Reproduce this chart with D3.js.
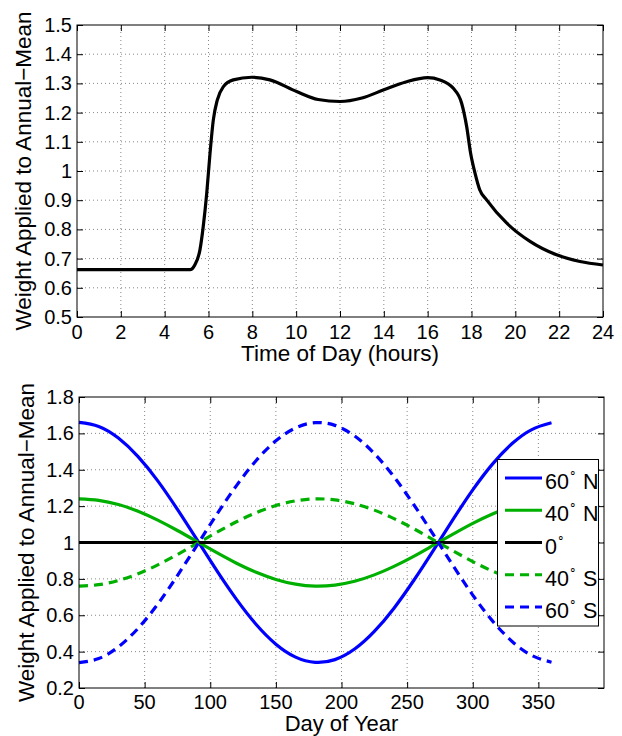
<!DOCTYPE html>
<html>
<head>
<meta charset="utf-8">
<script src="https://cdnjs.cloudflare.com/ajax/libs/d3/7.8.5/d3.min.js"></script>
<style>
  body { margin: 0; background: #fff; }
  svg { display: block; font-family: "Liberation Sans", Arial, sans-serif; }
  .grid line { stroke: #888; stroke-width: 1; stroke-dasharray: 1,3; }
</style>
</head>
<body>
<div id="chart"></div>
<script>
// top panel: diurnal weighting
const hours = [0, 2, 4, 5.16, 5.38, 5.61, 5.76, 5.92, 6.07, 6.22, 6.40, 6.68, 7.13, 7.97, 8.80, 10.02, 11, 12, 13, 14, 15, 16, 16.56, 17.17, 17.55, 17.78, 17.96, 18.16, 18.38, 18.69, 19.60, 20.67, 21.88, 22.95, 24];
const hourWeight = [0.662, 0.662, 0.662, 0.662, 0.679, 0.73, 0.81, 0.924, 1.061, 1.175, 1.243, 1.289, 1.312, 1.321, 1.312, 1.272, 1.245, 1.238, 1.25, 1.278, 1.305, 1.320, 1.312, 1.283, 1.232, 1.152, 1.061, 0.993, 0.935, 0.901, 0.822, 0.759, 0.713, 0.690, 0.678];
const hourTicks = d3.range(0, 25, 2);
const hourWeightTicks = [0.5, 0.6, 0.7, 0.8, 0.9, 1, 1.1, 1.2, 1.3, 1.4, 1.5];

// bottom panel: seasonal weighting by latitude
const days = [0, 15, 30, 45, 60, 75, 90, 105, 120, 135, 150, 165, 180, 195, 210, 225, 240, 255, 270, 285, 300, 315, 330, 345, 360];
const lat60N = [1.660, 1.638, 1.574, 1.472, 1.339, 1.182, 1.014, 0.845, 0.687, 0.549, 0.441, 0.370, 0.341, 0.356, 0.414, 0.511, 0.639, 0.791, 0.957, 1.127, 1.289, 1.431, 1.544, 1.621, 1.658];
const lat40N = [1.240, 1.232, 1.209, 1.172, 1.123, 1.066, 1.005, 0.944, 0.886, 0.836, 0.797, 0.771, 0.760, 0.766, 0.787, 0.822, 0.869, 0.924, 0.985, 1.046, 1.105, 1.157, 1.198, 1.226, 1.239];
const lat0 = [1, 1, 1, 1, 1, 1, 1, 1, 1, 1, 1, 1, 1, 1, 1, 1, 1, 1, 1, 1, 1, 1, 1, 1, 1];
const lat40S = [0.760, 0.768, 0.791, 0.828, 0.877, 0.934, 0.995, 1.056, 1.114, 1.164, 1.203, 1.229, 1.240, 1.234, 1.213, 1.178, 1.131, 1.076, 1.015, 0.954, 0.895, 0.843, 0.802, 0.774, 0.761];
const lat60S = [0.340, 0.362, 0.426, 0.528, 0.661, 0.818, 0.986, 1.155, 1.313, 1.451, 1.559, 1.630, 1.659, 1.644, 1.586, 1.489, 1.361, 1.209, 1.043, 0.873, 0.711, 0.569, 0.456, 0.379, 0.342];
const latNames = ['60', '40', '0', '40', '60'];
const latHemi = ['N', 'N', '', 'S', 'S'];
const latColors = ['#0000ff', '#00b000', '#000000', '#00b000', '#0000ff'];
const latDashed = [false, false, false, true, true];
const dayTicks = [0, 50, 100, 150, 200, 250, 300, 350];
const dayWeightTicks = [0.2, 0.4, 0.6, 0.8, 1, 1.2, 1.4, 1.6, 1.8];

const width = 622, height = 736;
const svg = d3.select('#chart').append('svg')
    .attr('width', width)
    .attr('height', height);

function drawFrame(x, y, xTicks, yTicks, xLabel, yLabel, yLabelX, tickDy, xLabelDy, labelSize) {
    const [x0, x1] = x.range();
    const [y0, y1] = y.range(); // y0 bottom, y1 top
    const g = svg.append('g');

    // dotted grid
    const grid = g.append('g').attr('class', 'grid');
    grid.selectAll('.gx').data(xTicks.filter(t => x(t) > x0 + 1 && x(t) < x1 - 1)).join('line')
        .attr('x1', d => x(d)).attr('x2', d => x(d))
        .attr('y1', y0).attr('y2', y1);
    grid.selectAll('.gy').data(yTicks.filter(t => y(t) < y0 - 1 && y(t) > y1 + 1)).join('line')
        .attr('class', 'gy')
        .attr('x1', x0).attr('x2', x1)
        .attr('y1', d => y(d)).attr('y2', d => y(d));

    // inward ticks on all four sides
    const tl = 6;
    g.append('g').call(d3.axisBottom(x).tickValues(xTicks).tickSize(-tl).tickFormat(''))
        .attr('transform', `translate(0,${y0})`);
    g.append('g').call(d3.axisTop(x).tickValues(xTicks).tickSize(-tl).tickFormat(''))
        .attr('transform', `translate(0,${y1})`);
    g.append('g').call(d3.axisLeft(y).tickValues(yTicks).tickSize(-tl).tickFormat(''))
        .attr('transform', `translate(${x0},0)`);
    g.append('g').call(d3.axisRight(y).tickValues(yTicks).tickSize(-tl).tickFormat(''))
        .attr('transform', `translate(${x1},0)`);
    g.selectAll('.domain').remove();
    g.selectAll('.tick line').attr('stroke', '#000').attr('stroke-width', 1);

    // tick labels
    g.selectAll('.xl').data(xTicks).join('text')
        .attr('x', d => x(d)).attr('y', y0 + tickDy)
        .attr('text-anchor', 'middle')
        .attr('font-size', 20)
        .text(d => d3.format('')(d));
    g.selectAll('.yl').data(yTicks).join('text')
        .attr('x', x0 - 5).attr('y', d => y(d) + 7)
        .attr('text-anchor', 'end')
        .attr('font-size', 20)
        .text(d => d3.format('')(d));

    g.append('text')
        .attr('x', (x0 + x1) / 2).attr('y', y0 + xLabelDy)
        .attr('text-anchor', 'middle')
        .attr('font-size', labelSize)
        .text(xLabel);
    g.append('text')
        .attr('transform', `translate(${yLabelX},${(y0 + y1) / 2}) rotate(-90)`)
        .attr('text-anchor', 'middle')
        .attr('font-size', 22.5)
        .text(yLabel);
    return g;
}

function drawBox(x, y) {
    const [x0, x1] = x.range();
    const [y0, y1] = y.range();
    svg.append('rect')
        .attr('x', x0).attr('y', y1)
        .attr('width', x1 - x0).attr('height', y0 - y1)
        .attr('fill', 'none').attr('stroke', '#000').attr('stroke-width', 1);
}

// ---- top panel ----
const xHour = d3.scaleLinear().domain([0, 24]).range([77, 603]);
const yHour = d3.scaleLinear().domain([0.5, 1.5]).range([317, 25]);
drawFrame(xHour, yHour, hourTicks, hourWeightTicks, 'Time of Day (hours)', 'Weight Applied to Annual\u2212Mean', 31, 22, 44, 22.5);

const hourLine = d3.line()
    .x(d => xHour(d[0]))
    .y(d => yHour(d[1]))
    .curve(d3.curveMonotoneX);
svg.append('path')
    .datum(hours.map((h, i) => [h, hourWeight[i]]))
    .attr('d', hourLine)
    .attr('fill', 'none')
    .attr('stroke', '#000')
    .attr('stroke-width', 3.2)
    .attr('stroke-linejoin', 'round');
drawBox(xHour, yHour);

// ---- bottom panel ----
const xDay = d3.scaleLinear().domain([0, 400]).range([79, 604]);
const yDay = d3.scaleLinear().domain([0.2, 1.8]).range([688, 397]);
drawFrame(xDay, yDay, dayTicks, dayWeightTicks, 'Day of Year', 'Weight Applied to Annual\u2212Mean', 33.5, 21, 43, 22);

const series = [lat60N, lat40N, lat0, lat40S, lat60S];
const dayLine = d3.line()
    .x(d => xDay(d[0]))
    .y(d => yDay(d[1]))
    .curve(d3.curveNatural);
series.forEach((vals, i) => {
    svg.append('path')
        .datum(days.map((d, j) => [d, vals[j]]))
        .attr('d', dayLine)
        .attr('fill', 'none')
        .attr('stroke', latColors[i])
        .attr('stroke-width', 3.2)
        .attr('stroke-dasharray', latDashed[i] ? '9,6' : null);
});
drawBox(xDay, yDay);

// legend
const legend = svg.append('g');
legend.append('rect')
    .attr('x', 497.5).attr('y', 459.5)
    .attr('width', 101).attr('height', 166.5)
    .attr('fill', '#fff').attr('stroke', '#000').attr('stroke-width', 1);
const rowY = d3.scaleLinear().domain([0, 4]).range([478, 607]);
latNames.forEach((name, i) => {
    legend.append('line')
        .attr('x1', 505).attr('x2', 542)
        .attr('y1', rowY(i)).attr('y2', rowY(i))
        .attr('stroke', latColors[i])
        .attr('stroke-width', 3.2)
        .attr('stroke-dasharray', latDashed[i] ? '9,6' : null);
    const t = legend.append('text')
        .attr('x', 545).attr('y', rowY(i) + 11)
        .attr('font-size', 21.5);
    t.append('tspan').text(name);
    t.append('tspan').attr('dy', -12).attr('font-size', 12).text('\u2218');
    if (latHemi[i]) {
        t.append('tspan').attr('dy', 12).text('\u00a0' + latHemi[i]);
    }
});
</script>
</body>
</html>
